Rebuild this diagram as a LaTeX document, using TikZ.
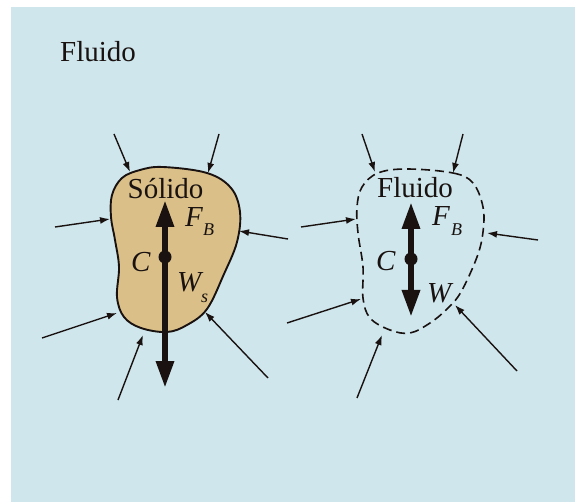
\documentclass[tikz,border=0pt]{standalone}
\usepackage{fontspec}
\setmainfont{Liberation Serif}
\usetikzlibrary{arrows.meta}
\definecolor{bg}{RGB}{206,230,236}
\definecolor{solidfill}{RGB}{218,192,136}
\definecolor{ink}{RGB}{25,18,16}
\begin{document}
\begin{tikzpicture}[x=1pt,y=-1pt,
  lbl/.style={inner sep=0pt, anchor=base west, text=ink, text depth=0pt, font=\fontsize{29}{30}\selectfont},
  ital/.style={lbl, text height=19pt, font=\fontsize{29}{30}\selectfont\itshape},
  sub/.style={lbl, text height=12pt, font=\fontsize{18}{20}\selectfont\itshape},
  press/.style={draw=ink, line width=1.4pt, -{Latex[length=10pt,width=7pt]}},
  force/.style={draw=ink, line width=6pt, -{Triangle[length=27pt,width=17pt]}},
]
\useasboundingbox (0,0) rectangle (575,502);
\fill[bg] (11,7) rectangle (575,502);

% title
\node[lbl] (title) at (60,62) {Fluido};

% ---------- solid body ----------
\draw[ink, line width=1.9pt, fill=solidfill] plot[smooth cycle, tension=0.6] coordinates {
 (163,167) (207,173) (231,188) (240,212) (237,242) (224,274) (207,309)
 (187,325) (167,332) (141,328) (124,317) (117,297) (119,267) (115,240)
 (111,217) (112,195) (122,178) (140,170)};

\node[lbl, anchor=base] (solido) at (165.5,199) {Sólido};
\coordinate (C1) at (165,257);
\coordinate (U1) at (165,200);
\coordinate (D1) at (165,388);
\draw[force] (C1) -- (U1);
\draw[force] (C1) -- (D1);
\fill[ink] (C1) circle (6.5pt);
\node[ital] (F1) at (185,227) {F};
\node[sub] (B1) at (203,236) {B};
\node[ital] (Cl1) at (131,272) {C};
\node[ital] (W1) at (177,292) {W};
\node[sub] (s1) at (201,302) {s};

% pressure arrows on solid
\coordinate (a1s) at (114,134); \coordinate (a1e) at (130,172);
\coordinate (a2s) at (219,134); \coordinate (a2e) at (208,173);
\coordinate (a3s) at (55,227);  \coordinate (a3e) at (110,219);
\coordinate (a4s) at (288,239); \coordinate (a4e) at (239,231);
\coordinate (a5s) at (42,338);  \coordinate (a5e) at (117,313);
\coordinate (a6s) at (118,400); \coordinate (a6e) at (143,335);
\coordinate (a7s) at (268,378); \coordinate (a7e) at (205,312);
\foreach \i in {1,...,7} \draw[press] (a\i s) -- (a\i e);

% ---------- fluid body ----------
\draw[ink, line width=1.6pt, dash pattern=on 9pt off 5pt] plot[smooth cycle, tension=0.6] coordinates {
 (407,169) (453,173) (473,183) (483,207) (483,232) (477,257) (461,292)
 (447,309) (430,323) (410,333) (390,330) (370,318) (363,298) (363,267)
 (358,233) (357,207) (362,187) (378,173)};

\node[lbl, anchor=base] (fluido) at (415,197.5) {Fluido};
\coordinate (C2) at (411,259);
\coordinate (U2) at (411,202);
\coordinate (D2) at (411,317);
\draw[force] (C2) -- (U2);
\draw[force] (C2) -- (D2);
\fill[ink] (C2) circle (6.5pt);
\node[ital] (F2) at (432,226) {F};
\node[sub] (B2) at (451,236) {B};
\node[ital] (Cl2) at (376,271) {C};
\node[ital] (W2) at (427,302) {W};

% pressure arrows on fluid
\coordinate (b1s) at (362,134); \coordinate (b1e) at (375,172);
\coordinate (b2s) at (463,134); \coordinate (b2e) at (453,173);
\coordinate (b3s) at (301,227); \coordinate (b3e) at (356,219);
\coordinate (b4s) at (538,240); \coordinate (b4e) at (487,233);
\coordinate (b5s) at (287,323); \coordinate (b5e) at (361,299);
\coordinate (b6s) at (357,398); \coordinate (b6e) at (382,335);
\coordinate (b7s) at (517,371); \coordinate (b7e) at (455,305);
\foreach \i in {1,...,7} \draw[press] (b\i s) -- (b\i e);
\end{tikzpicture}
\end{document}
